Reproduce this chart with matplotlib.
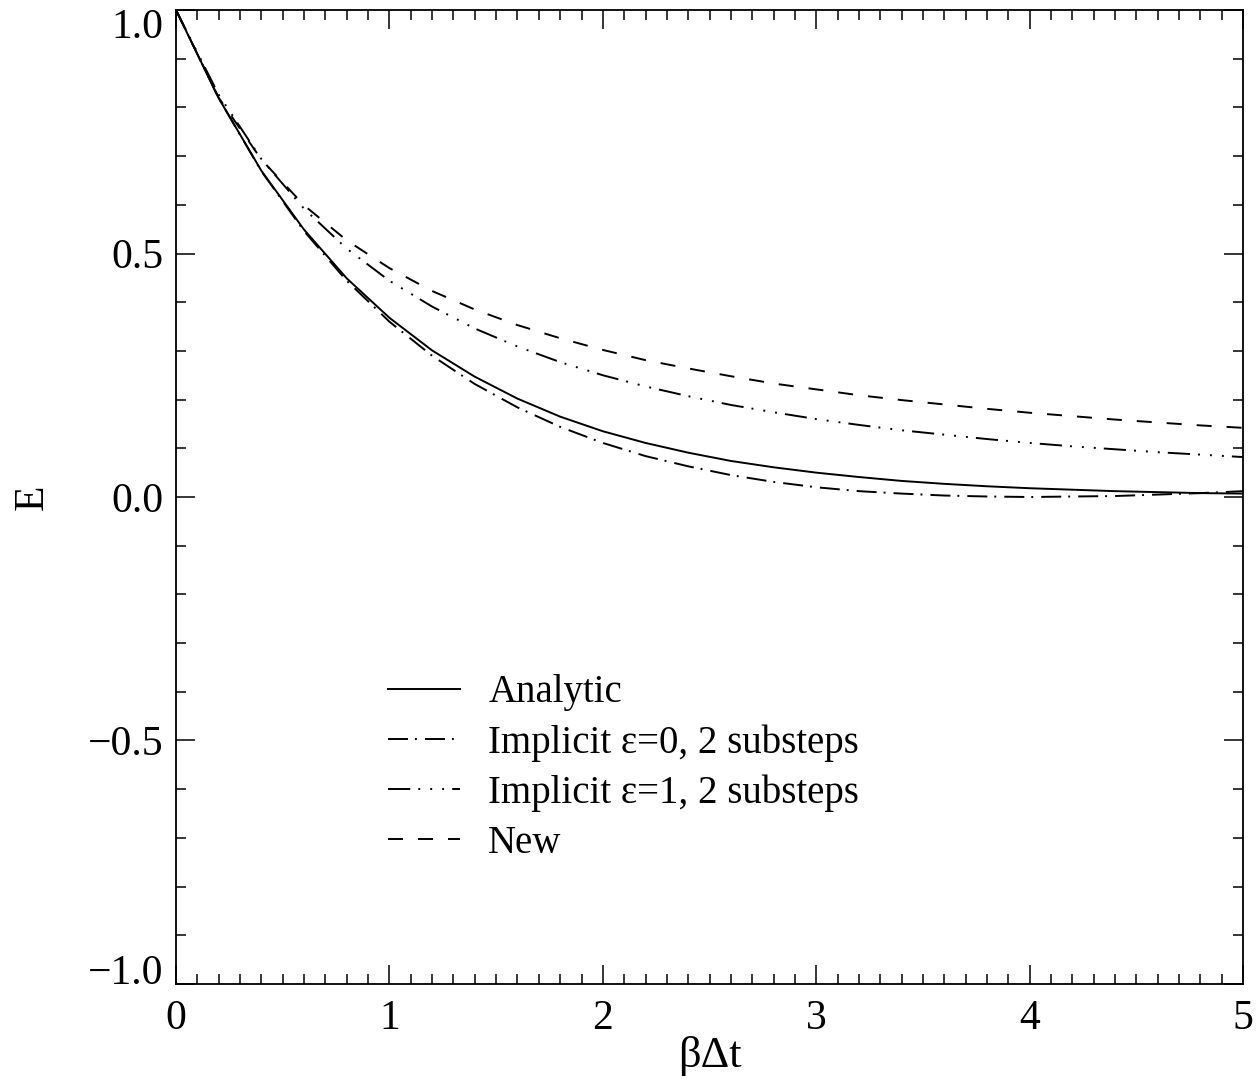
#Librerias
import matplotlib.pyplot as plt
import matplotlib.transforms as mtransforms
from matplotlib.ticker import MultipleLocator

plt.rcParams['font.family'] = ['Liberation Serif', 'DejaVu Serif']
plt.rcParams['lines.scale_dashes'] = False

#Datos
x = [0.0, 0.2, 0.4, 0.6, 0.8, 1.0, 1.2, 1.4, 1.6, 1.8, 2.0, 2.2, 2.4,
     2.6, 2.8, 3.0, 3.2, 3.4, 3.6, 3.8, 4.0, 4.2, 4.4, 4.6, 4.8, 5.0]

analytic = [1.000, 0.819, 0.670, 0.549, 0.449, 0.368, 0.301, 0.247, 0.202,
            0.165, 0.135, 0.111, 0.091, 0.074, 0.061, 0.050, 0.041, 0.033,
            0.027, 0.022, 0.018, 0.015, 0.012, 0.010, 0.008, 0.007]

implicit_e0 = [1.000, 0.819, 0.669, 0.546, 0.444, 0.360, 0.290, 0.232, 0.184,
               0.144, 0.111, 0.084, 0.063, 0.045, 0.031, 0.020, 0.012, 0.007,
               0.003, 0.001, 0.000, 0.001, 0.002, 0.005, 0.008, 0.012]

implicit_e1 = [1.000, 0.826, 0.694, 0.592, 0.510, 0.444, 0.391, 0.346, 0.309,
               0.277, 0.250, 0.227, 0.207, 0.189, 0.174, 0.160, 0.148, 0.137,
               0.128, 0.119, 0.111, 0.104, 0.098, 0.092, 0.087, 0.082]

new = [1.000, 0.820, 0.693, 0.599, 0.527, 0.470, 0.423, 0.385, 0.353,
       0.326, 0.302, 0.281, 0.264, 0.248, 0.233, 0.221, 0.209, 0.199,
       0.190, 0.181, 0.173, 0.166, 0.159, 0.153, 0.147, 0.142]

etiquetas = ['Analytic', 'Implicit \u03b5=0, 2 substeps',
             'Implicit \u03b5=1, 2 substeps', 'New']

#Grafico
fig = plt.figure(figsize=(12.57, 10.88), dpi=100)
ax = fig.add_axes([0.140, 0.0956, 0.849, 0.8952])

lw = 1.4
ax.plot(x, analytic, color='black', lw=lw, linestyle='-', label=etiquetas[0])
ax.plot(x, implicit_e0, color='black', lw=lw,
        linestyle=(0, (14.4, 5.0, 1.4, 5.8)), label=etiquetas[1])
ax.plot(x, implicit_e1, color='black', lw=lw,
        linestyle=(0, (16.0, 5.8, 1.4, 7.2, 1.4, 7.2, 1.4, 5.8)), label=etiquetas[2])
ax.plot(x, new, color='black', lw=lw,
        linestyle=(0, (10.8, 10.8)), label=etiquetas[3])

ax.set_xlim(0, 5)
ax.set_ylim(-1, 1)
ax.xaxis.set_major_locator(MultipleLocator(1))
ax.xaxis.set_minor_locator(MultipleLocator(0.1))
ax.yaxis.set_major_locator(MultipleLocator(0.5))
ax.yaxis.set_minor_locator(MultipleLocator(0.1))
ax.set_yticks([-1.0, -0.5, 0.0, 0.5, 1.0])
ax.set_yticklabels(['\u22121.0', '\u22120.5', '0.0', '0.5', '1.0'])

ax.tick_params(which='both', direction='in', top=True, right=True,
               width=1.1, labelsize=30)
ax.tick_params(which='major', length=14)
ax.tick_params(which='minor', length=7)
ax.tick_params(axis='x', which='major', pad=11)
ax.tick_params(axis='y', which='major', pad=9)
for lado in ax.spines.values():
    lado.set_linewidth(1.3)

#Etiquetas de los extremos dentro del eje, como en el original
ylabs = ax.get_yticklabels()
ylabs[0].set_va('baseline')
ylabs[-1].set_va('baseline')
ylabs[-1].set_transform(ylabs[-1].get_transform() +
                        mtransforms.ScaledTranslation(0, -28 / 100, fig.dpi_scale_trans))

ax.set_xlabel('\u03b2\u0394t', fontsize=32)
ax.xaxis.set_label_coords(0.5, -0.053)
ax.set_ylabel('E', fontsize=30)
ax.yaxis.set_label_coords(-0.116, 0.5)

ax.legend(loc='upper left', bbox_to_anchor=(0.199, 0.318), frameon=False,
          fontsize=28, handlelength=1.85, handletextpad=0.72,
          labelspacing=0.33, borderpad=0, borderaxespad=0)

plt.savefig('out.png', dpi=100)
